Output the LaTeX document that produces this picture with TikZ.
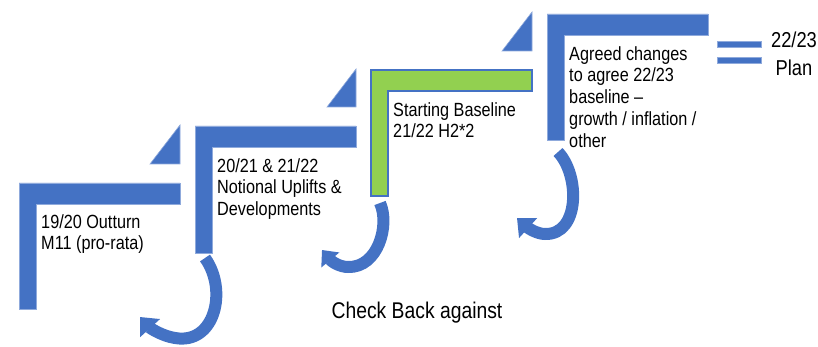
\documentclass[tikz,border=0pt]{standalone}
\usepackage{fontspec}
\setmainfont{Liberation Sans}
\newfontfamily\stepfont{Liberation Sans}[FakeStretch=0.85]
\usepackage{xcolor}
\usetikzlibrary{arrows.meta}
\definecolor{stepblue}{HTML}{4472C4}
\definecolor{stepgreen}{HTML}{92D050}
\definecolor{stepedge}{HTML}{8FAADC}

\begin{document}
\begin{tikzpicture}[x=0.03cm, y=-0.03cm,
    stepbar/.style={fill=stepblue, draw=stepedge, line width=0.5pt},
    greenbar/.style={fill=stepgreen, draw=stepblue, line width=1.2pt},
    steptext/.style={anchor=north west, inner sep=0pt, align=left, font={\stepfont\fontsize{16.3pt}{18.7pt}\selectfont}},
    backarrow/.style={draw=stepblue, line width=0.36cm, -{Triangle[length=0.45cm, width=0.78cm]}}
]
\useasboundingbox (0,0) rectangle (818,347);

\filldraw[stepbar] (19,183) -- ++(161,0) -- ++(0,21) -- ++(-144,0) -- ++(0,105) -- ++(-17,0) -- cycle;
\filldraw[stepbar] (180,164) -- (180,125) -- (150,164) -- cycle;
\filldraw[stepbar] (195,126) -- ++(161,0) -- ++(0,21) -- ++(-144,0) -- ++(0,106) -- ++(-17,0) -- cycle;
\filldraw[stepbar] (356,107) -- (356,69) -- (327,107) -- cycle;
\filldraw[greenbar] (371,70) -- ++(161,0) -- ++(0,21) -- ++(-144,0) -- ++(0,105) -- ++(-17,0) -- cycle;
\filldraw[stepbar] (532,51) -- (532,12) -- (502,51) -- cycle;
\filldraw[stepbar] (547,14) -- ++(161,0) -- ++(0,21) -- ++(-144,0) -- ++(0,105) -- ++(-17,0) -- cycle;
\filldraw[stepbar] (717,41) rectangle (761,47);
\filldraw[stepbar] (717,57) rectangle (761,63);

\node[steptext] (outturn)  at (41,214)  {19/20 Outturn\\M11 (pro-rata)};
\node[steptext] (uplifts)  at (217,158) {20/21 \& 21/22\\Notional Uplifts \&\\Developments};
\node[steptext] (baseline) at (393,102) {Starting Baseline\\21/22 H2*2};
\node[steptext] (changes)  at (569,46)  {Agreed changes\\to agree 22/23\\baseline –\\growth / inflation /\\other};
\node[anchor=north, inner sep=0pt, align=center, font={\stepfont\fontsize{18.4pt}{23.8pt}\selectfont}] (plan) at (794,32) {22/23\\Plan};
\node[anchor=base, inner sep=0pt, font={\stepfont\fontsize{19.4pt}{23pt}\selectfont}] (checkback) at (417,319) {Check Back against};

\coordinate (back1) at (205,258);
\coordinate (back1low) at (175,338);
\coordinate (back1tip) at (140,317);
\coordinate (back2) at (380,203);
\coordinate (back2low) at (348,267);
\coordinate (back2tip) at (322,250);
\coordinate (back3) at (558,152);
\coordinate (back3low) at (545,234);
\coordinate (back3tip) at (517,218);
\draw[backarrow] (back1) .. controls +(23,32) and +(40,7) .. (back1low) .. controls +(-13,-2) and +(10,11) .. (back1tip);
\draw[backarrow, -{Triangle[length=0.39cm, width=0.68cm]}] (back2) .. controls +(10,22) and +(30,1) .. (back2low) .. controls +(-8,0) and +(10,12) .. (back2tip);
\draw[backarrow] (back3) .. controls +(22,23) and +(35,1) .. (back3low) .. controls +(-8,0) and +(11,10) .. (back3tip);
\end{tikzpicture}
\end{document}
